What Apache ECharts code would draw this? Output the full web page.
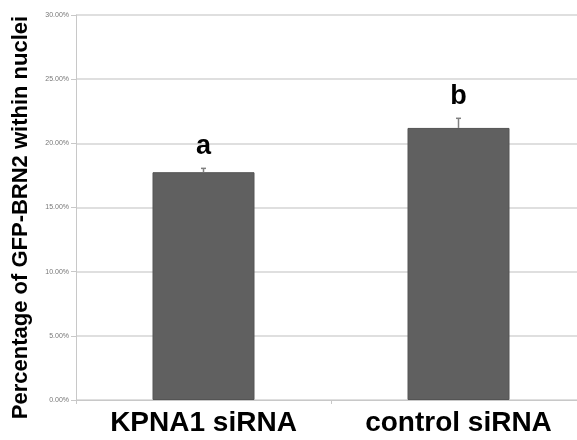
<!DOCTYPE html>
<html>
<head>
<meta charset="utf-8">
<script src="https://cdn.jsdelivr.net/npm/echarts@6/dist/echarts.min.js"></script>
<style>html,body{margin:0;padding:0;background:#fff;}#c{width:577px;height:440px;}</style>
</head>
<body>
<div id="c"></div>
<script>
var categories = ['KPNA1 siRNA', 'control siRNA'];
var means = [17.75, 21.2];
var errUpper = [18.05, 21.95];
var sigLetters = ['a', 'b'];
var yTicks = [0, 5, 10, 15, 20, 25, 30];

var chart = echarts.init(document.getElementById('c'));
chart.setOption({
  animation: false,
  backgroundColor: '#fff',
  grid: {left: 76, width: 510, top: 15, bottom: 40, outerBoundsMode: 'none', containLabel: false},
  xAxis: {
    type: 'category',
    data: categories,
    axisLine: {lineStyle: {color: '#c8c8c8', width: 1}},
    axisTick: {show: true, length: 4, lineStyle: {color: '#c8c8c8'}},
    axisLabel: {fontFamily: 'Liberation Sans, Arial', fontWeight: 'bold', fontSize: 28, color: '#000', margin: 9}
  },
  yAxis: {
    type: 'value',
    min: 0, max: 30, interval: 5,
    name: 'Percentage of GFP-BRN2 within nuclei',
    nameLocation: 'middle',
    nameGap: 44,
    nameTextStyle: {fontFamily: 'Liberation Sans, Arial', fontWeight: 'bold', fontSize: 22, color: '#000', padding: [0, 20, 0, 0]},
    axisLine: {show: true, lineStyle: {color: '#c8c8c8', width: 1}},
    axisTick: {show: true, length: 5, lineStyle: {color: '#c8c8c8'}},
    splitLine: {lineStyle: {color: '#d4d4d4', width: 1.5}},
    axisLabel: {fontFamily: 'Liberation Sans, Arial', fontSize: 7, color: '#777', margin: 7,
      formatter: function (v) { return v.toFixed(2) + '%'; }}
  },
  series: [
    {
      type: 'bar',
      data: means,
      barWidth: 102,
      itemStyle: {color: '#606060', borderColor: '#545454', borderWidth: 1}
    },
    {
      type: 'custom',
      data: categories.map(function (c, i) { return [i, means[i], errUpper[i], sigLetters[i]]; }),
      renderItem: function (params, api) {
        var i = api.value(0);
        var base = api.coord([i, api.value(1)]);
        var top = api.coord([i, api.value(2)]);
        return {
          type: 'group',
          children: [
            {type: 'line', shape: {x1: base[0], y1: base[1], x2: top[0], y2: top[1]}, style: {stroke: '#808080', lineWidth: 1.5}},
            {type: 'line', shape: {x1: top[0] - 2.5, y1: top[1], x2: top[0] + 2.5, y2: top[1]}, style: {stroke: '#808080', lineWidth: 1.5}},
            {type: 'text', style: {text: sigLetters[i], x: top[0], y: top[1] - 8, textAlign: 'center', textVerticalAlign: 'bottom',
              font: 'bold 27px "Liberation Sans", Arial', fill: '#000'}}
          ]
        };
      },
      z: 5
    }
  ]
});
</script>
</body>
</html>
